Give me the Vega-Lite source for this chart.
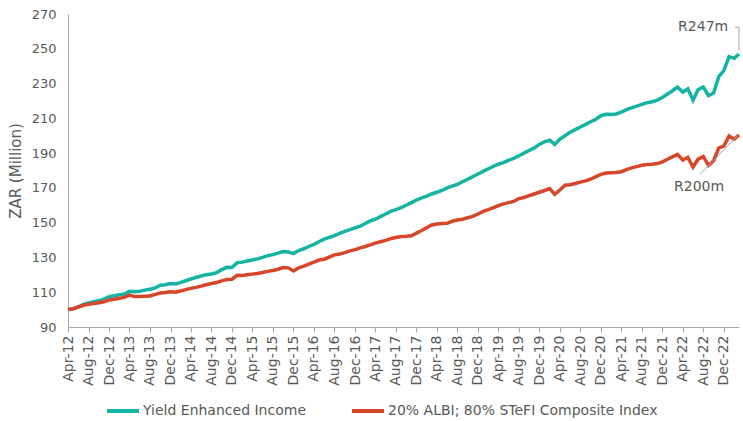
{
  "$schema": "https://vega.github.io/schema/vega-lite/v6.json",
  "width": 671,
  "height": 313,
  "autosize": {"type": "none"},
  "padding": {"left": 68, "top": 14, "right": 4, "bottom": 94},
  "background": "white",
  "config": {
    "view": {"stroke": null},
    "font": "DejaVu Sans",
    "axis": {"labelFont": "DejaVu Sans", "titleFont": "DejaVu Sans", "labelColor": "#595959", "titleColor": "#595959", "domainColor": "#A6A6A6", "tickColor": "#A6A6A6", "grid": false, "labelOverlap": false},
    "legend": {"labelFont": "DejaVu Sans", "labelColor": "#595959"}
  },
  "datasets": {
    "main": [
      {"d":"2012-04-01","y":100,"b":100},{"d":"2012-05-01","y":100.5,"b":100.5},{"d":"2012-06-01","y":101.5,"b":101.5},{"d":"2012-07-01","y":103,"b":102.5},{"d":"2012-08-01","y":103.8,"b":103},{"d":"2012-09-01","y":104.5,"b":103.5},{"d":"2012-10-01","y":105.2,"b":104},{"d":"2012-11-01","y":106,"b":104.5},{"d":"2012-12-01","y":107.5,"b":105.5},
      {"d":"2013-01-01","y":108,"b":106},{"d":"2013-02-01","y":108.5,"b":106.5},{"d":"2013-03-01","y":109,"b":107},{"d":"2013-04-01","y":110.5,"b":108.3},{"d":"2013-05-01","y":110.3,"b":107.5},{"d":"2013-06-01","y":110.6,"b":107.5},{"d":"2013-07-01","y":111.2,"b":107.7},{"d":"2013-08-01","y":111.7,"b":107.8},{"d":"2013-09-01","y":112.5,"b":108.8},{"d":"2013-10-01","y":114,"b":109.5},{"d":"2013-11-01","y":114.3,"b":109.8},{"d":"2013-12-01","y":115,"b":110.2},
      {"d":"2014-01-01","y":114.8,"b":110},{"d":"2014-02-01","y":115.7,"b":110.8},{"d":"2014-03-01","y":116.6,"b":111.5},{"d":"2014-04-01","y":117.6,"b":112.2},{"d":"2014-05-01","y":118.5,"b":112.8},{"d":"2014-06-01","y":119.3,"b":113.5},{"d":"2014-07-01","y":120,"b":114.3},{"d":"2014-08-01","y":120.5,"b":115},{"d":"2014-09-01","y":121.3,"b":115.6},{"d":"2014-10-01","y":123,"b":116.5},{"d":"2014-11-01","y":124.3,"b":117.3},{"d":"2014-12-01","y":124.2,"b":117.5},
      {"d":"2015-01-01","y":127,"b":119.7},{"d":"2015-02-01","y":127.3,"b":119.6},{"d":"2015-03-01","y":128,"b":120},{"d":"2015-04-01","y":128.5,"b":120.4},{"d":"2015-05-01","y":129.2,"b":120.8},{"d":"2015-06-01","y":130,"b":121.3},{"d":"2015-07-01","y":131,"b":122},{"d":"2015-08-01","y":131.6,"b":122.5},{"d":"2015-09-01","y":132.5,"b":123.2},{"d":"2015-10-01","y":133.4,"b":124.2},{"d":"2015-11-01","y":133.2,"b":124},{"d":"2015-12-01","y":132.2,"b":122.2},
      {"d":"2016-01-01","y":134,"b":124},{"d":"2016-02-01","y":135,"b":125},{"d":"2016-03-01","y":136.3,"b":126.2},{"d":"2016-04-01","y":137.5,"b":127.3},{"d":"2016-05-01","y":139,"b":128.5},{"d":"2016-06-01","y":140.5,"b":129},{"d":"2016-07-01","y":141.5,"b":130.2},{"d":"2016-08-01","y":142.5,"b":131.5},{"d":"2016-09-01","y":143.8,"b":132},{"d":"2016-10-01","y":145,"b":132.8},{"d":"2016-11-01","y":146,"b":133.8},{"d":"2016-12-01","y":147,"b":134.5},
      {"d":"2017-01-01","y":148,"b":135.5},{"d":"2017-02-01","y":149.5,"b":136.3},{"d":"2017-03-01","y":151,"b":137.2},{"d":"2017-04-01","y":152,"b":138.2},{"d":"2017-05-01","y":153.5,"b":139},{"d":"2017-06-01","y":155,"b":139.8},{"d":"2017-07-01","y":156.5,"b":140.8},{"d":"2017-08-01","y":157.5,"b":141.5},{"d":"2017-09-01","y":158.7,"b":142},{"d":"2017-10-01","y":160,"b":142.2},{"d":"2017-11-01","y":161.5,"b":142.5},{"d":"2017-12-01","y":163,"b":144},
      {"d":"2018-01-01","y":164.2,"b":145.5},{"d":"2018-02-01","y":165.3,"b":147.2},{"d":"2018-03-01","y":166.5,"b":148.7},{"d":"2018-04-01","y":167.5,"b":149.2},{"d":"2018-05-01","y":168.5,"b":149.5},{"d":"2018-06-01","y":170,"b":149.6},{"d":"2018-07-01","y":171,"b":150.8},{"d":"2018-08-01","y":172,"b":151.5},{"d":"2018-09-01","y":173.5,"b":152},{"d":"2018-10-01","y":175,"b":152.8},{"d":"2018-11-01","y":176.5,"b":153.6},{"d":"2018-12-01","y":178,"b":155},
      {"d":"2019-01-01","y":179.5,"b":156.5},{"d":"2019-02-01","y":181,"b":157.5},{"d":"2019-03-01","y":182.3,"b":158.5},{"d":"2019-04-01","y":183.6,"b":159.8},{"d":"2019-05-01","y":184.5,"b":160.8},{"d":"2019-06-01","y":185.8,"b":161.5},{"d":"2019-07-01","y":187,"b":162.2},{"d":"2019-08-01","y":188.5,"b":163.8},{"d":"2019-09-01","y":190,"b":164.5},{"d":"2019-10-01","y":191.5,"b":165.5},{"d":"2019-11-01","y":193,"b":166.5},{"d":"2019-12-01","y":195,"b":167.5},
      {"d":"2020-01-01","y":196.5,"b":168.5},{"d":"2020-02-01","y":197.4,"b":169.6},{"d":"2020-03-01","y":195,"b":166.3},{"d":"2020-04-01","y":198,"b":168.8},{"d":"2020-05-01","y":200,"b":171.5},{"d":"2020-06-01","y":202,"b":171.8},{"d":"2020-07-01","y":203.5,"b":172.5},{"d":"2020-08-01","y":205,"b":173.3},{"d":"2020-09-01","y":206.5,"b":174},{"d":"2020-10-01","y":208,"b":175},{"d":"2020-11-01","y":209.5,"b":176.5},{"d":"2020-12-01","y":211.5,"b":177.8},
      {"d":"2021-01-01","y":212.3,"b":178.5},{"d":"2021-02-01","y":212.2,"b":178.7},{"d":"2021-03-01","y":212.5,"b":178.8},{"d":"2021-04-01","y":213.5,"b":179.3},{"d":"2021-05-01","y":215,"b":180.5},{"d":"2021-06-01","y":216,"b":181.5},{"d":"2021-07-01","y":217,"b":182.2},{"d":"2021-08-01","y":218,"b":183},{"d":"2021-09-01","y":219,"b":183.5},{"d":"2021-10-01","y":219.5,"b":183.6},{"d":"2021-11-01","y":220.5,"b":184},{"d":"2021-12-01","y":222,"b":185},
      {"d":"2022-01-01","y":224,"b":186.5},{"d":"2022-02-01","y":226,"b":188},{"d":"2022-03-01","y":228,"b":189.3},{"d":"2022-04-01","y":225,"b":186},{"d":"2022-05-01","y":227,"b":187.5},{"d":"2022-06-01","y":220.5,"b":182},{"d":"2022-07-01","y":226.5,"b":186.5},{"d":"2022-08-01","y":228,"b":188},{"d":"2022-09-01","y":223,"b":183},{"d":"2022-10-01","y":224.5,"b":185.5},{"d":"2022-11-01","y":234,"b":193},{"d":"2022-12-01","y":237.5,"b":194},
      {"d":"2023-01-01","y":245.5,"b":199.8},{"d":"2023-02-01","y":244.5,"b":198},{"d":"2023-03-01","y":247,"b":200.5}
    ],
    "labels": [
      {"d":"2022-07-31","v":262.3,"t":"R247m"},
      {"d":"2022-07-07","v":170.3,"t":"R200m"}
    ],
    "leaders": [
      {"g":1,"k":1,"d":"2023-02-06","v":262.3},
      {"g":1,"k":2,"d":"2023-03-01","v":262.3},
      {"g":1,"k":3,"d":"2023-03-01","v":249},
      {"g":2,"k":1,"d":"2022-07-13","v":177.8},
      {"g":2,"k":2,"d":"2023-03-01","v":200.8}
    ]
  },
  "layer": [
    {
      "data": {"name": "main"},
      "mark": {"type": "line", "strokeWidth": 3.5},
      "encoding": {
        "x": {
          "field": "d", "type": "temporal",
          "scale": {"type": "utc", "domain": [{"year":2012,"month":4,"date":1,"utc":true},{"year":2023,"month":3,"date":1,"utc":true}]},
          "axis": {
            "title": null, "format": "%b-%y", "labelAngle": -90, "labelFontSize": 14, "tickSize": 5, "labelPadding": 3, "labelOverlap": false, "labelFlush": false, "tickCount": 60,
            "values": [
              {"year":2012,"month":4,"date":1,"utc":true},{"year":2012,"month":8,"date":1,"utc":true},{"year":2012,"month":12,"date":1,"utc":true},
              {"year":2013,"month":4,"date":1,"utc":true},{"year":2013,"month":8,"date":1,"utc":true},{"year":2013,"month":12,"date":1,"utc":true},
              {"year":2014,"month":4,"date":1,"utc":true},{"year":2014,"month":8,"date":1,"utc":true},{"year":2014,"month":12,"date":1,"utc":true},
              {"year":2015,"month":4,"date":1,"utc":true},{"year":2015,"month":8,"date":1,"utc":true},{"year":2015,"month":12,"date":1,"utc":true},
              {"year":2016,"month":4,"date":1,"utc":true},{"year":2016,"month":8,"date":1,"utc":true},{"year":2016,"month":12,"date":1,"utc":true},
              {"year":2017,"month":4,"date":1,"utc":true},{"year":2017,"month":8,"date":1,"utc":true},{"year":2017,"month":12,"date":1,"utc":true},
              {"year":2018,"month":4,"date":1,"utc":true},{"year":2018,"month":8,"date":1,"utc":true},{"year":2018,"month":12,"date":1,"utc":true},
              {"year":2019,"month":4,"date":1,"utc":true},{"year":2019,"month":8,"date":1,"utc":true},{"year":2019,"month":12,"date":1,"utc":true},
              {"year":2020,"month":4,"date":1,"utc":true},{"year":2020,"month":8,"date":1,"utc":true},{"year":2020,"month":12,"date":1,"utc":true},
              {"year":2021,"month":4,"date":1,"utc":true},{"year":2021,"month":8,"date":1,"utc":true},{"year":2021,"month":12,"date":1,"utc":true},
              {"year":2022,"month":4,"date":1,"utc":true},{"year":2022,"month":8,"date":1,"utc":true},{"year":2022,"month":12,"date":1,"utc":true}
            ]
          }
        },
        "y": {
          "field": "y", "type": "quantitative",
          "scale": {"domain": [90, 270], "nice": false, "zero": false},
          "axis": {"title": "ZAR (Million)", "titleFontSize": 15, "titleFontWeight": "normal", "titlePadding": 8, "labelFontSize": 13, "ticks": false, "labelPadding": 12, "labelOverlap": false, "labelFlush": false, "tickCount": 20, "values": [90,110,130,150,170,190,210,230,250,270]}
        },
        "color": {
          "datum": "Yield Enhanced Income",
          "scale": {"domain": ["Yield Enhanced Income", "20% ALBI; 80% STeFI Composite Index"], "range": ["#14B4A5", "#D8462A"]},
          "legend": {
            "title": null, "orient": "none", "legendX": 37, "legendY": 379, "direction": "horizontal",
            "symbolType": "stroke", "symbolSize": 1024, "symbolStrokeWidth": 4, "labelFontSize": 14, "labelLimit": 500, "labelOffset": 2, "columnPadding": 38, "padding": 0
          }
        }
      }
    },
    {
      "data": {"name": "main"},
      "mark": {"type": "line", "strokeWidth": 3.5},
      "encoding": {
        "x": {"field": "d", "type": "temporal"},
        "y": {"field": "b", "type": "quantitative"},
        "color": {"datum": "20% ALBI; 80% STeFI Composite Index"}
      }
    },
    {
      "data": {"name": "leaders"},
      "mark": {"type": "line", "color": "#A6A6A6", "strokeWidth": 1},
      "encoding": {
        "x": {"field": "d", "type": "temporal"},
        "y": {"field": "v", "type": "quantitative"},
        "detail": {"field": "g"},
        "order": {"field": "k"}
      }
    },
    {
      "data": {"name": "labels"},
      "mark": {"type": "text", "fontSize": 14, "color": "#595959", "align": "center", "baseline": "middle"},
      "encoding": {
        "x": {"field": "d", "type": "temporal"},
        "y": {"field": "v", "type": "quantitative"},
        "text": {"field": "t"}
      }
    }
  ]
}
